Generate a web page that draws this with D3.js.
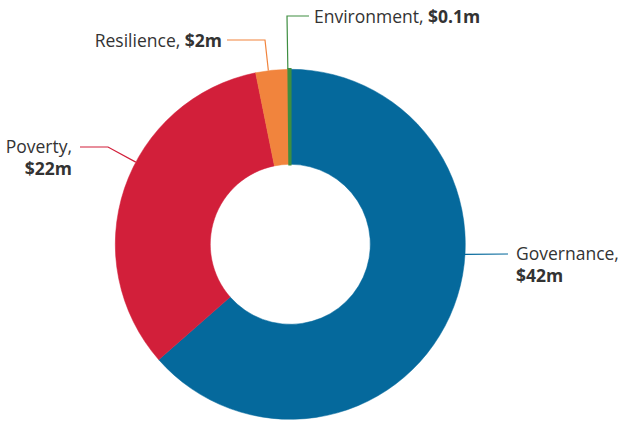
<!DOCTYPE html>
<html><head><meta charset="utf-8">
<script src="https://cdn.jsdelivr.net/npm/d3@7/dist/d3.min.js"></script>
<style>
html,body{margin:0;padding:0;background:#fff;}
svg{display:block;font-family:"Open Sans","Lato",sans-serif;}
</style></head>
<body><svg id="chart" width="621" height="421"></svg>
<script>
const categories = ["Governance", "Poverty", "Resilience", "Environment"];
const values = [42, 22, 2, 0.1];
const valueLabels = ["$42m", "$22m", "$2m", "$0.1m"];
const colors = ["#05699c", "#d21f3a", "#f1843d", "#3e8e41"];

// label layout (annotation geometry, not data)
const labelLayout = [
  {angle: 93.3, pts: [[508, 254]], text: [516, 255], anchor: "start", twoLine: true},
  {angle: 298, pts: [[108, 147], [80, 147]], text: [72, 148], anchor: "end", twoLine: true},
  {angle: 352.8, pts: [[265, 40], [227, 40]], text: [222, 42], anchor: "end", twoLine: false},
  {angle: 359.2, pts: [[287, 16], [309, 16]], text: [314, 18], anchor: "start", twoLine: false}
];

const svg = d3.select("#chart");
const cx = 290.3, cy = 244.3, R = 175, r0 = 80;
const g = svg.append("g").attr("transform", `translate(${cx},${cy})`);

const data = categories.map((c, i) => ({name: c, value: values[i], label: valueLabels[i], color: colors[i], i}));
const pie = d3.pie().value(d => d.value).sort(null);
const arc = d3.arc().innerRadius(r0).outerRadius(R);
const arcs = pie(data);

g.selectAll("path.slice").data(arcs).enter().append("path")
  .attr("class", "slice")
  .attr("d", arc)
  .attr("fill", d => d.data.color)
  .attr("stroke", d => d.data.color)
  .attr("stroke-width", d => d.data.value < 1 ? 2.5 : 0.5);

arcs.forEach((a, i) => {
  const L = labelLayout[i];
  const ang = L.angle * Math.PI / 180;
  const start = [cx + R * Math.sin(ang), cy - R * Math.cos(ang)];
  const pts = [start].concat(L.pts);
  svg.append("path")
    .attr("d", d3.line()(pts))
    .attr("fill", "none")
    .attr("stroke", a.data.color)
    .attr("stroke-width", 1.2);
  const t = svg.append("text")
    .attr("x", L.text[0]).attr("y", L.text[1])
    .attr("text-anchor", L.anchor)
    .attr("dominant-baseline", "middle")
    .attr("font-size", 17.5)
    .attr("fill", "#333");
  if (L.twoLine) {
    t.append("tspan").text(a.data.name + ",");
    t.append("tspan").attr("x", L.text[0]).attr("dy", 22).attr("font-weight", "bold").text(a.data.label);
  } else {
    t.append("tspan").text(a.data.name + ", ");
    t.append("tspan").attr("font-weight", "bold").text(a.data.label);
  }
});
</script></body></html>
